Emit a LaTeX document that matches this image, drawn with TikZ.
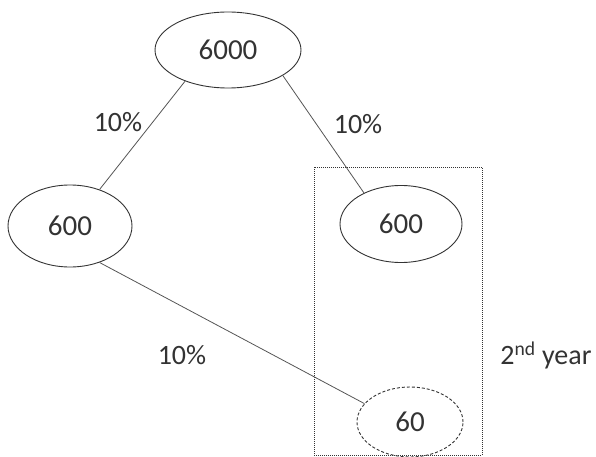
\documentclass[tikz,border=0pt]{standalone}
\usepackage{fontspec}
\setmainfont{Carlito}
\usetikzlibrary{shapes.geometric}
\definecolor{ink}{HTML}{333333}
\definecolor{wire}{HTML}{555555}
\begin{document}
\begin{tikzpicture}
  [x=1pt, y=-1pt]
  \tikzstyle{amount} = [ellipse, draw=ink, line width=0.9pt, inner sep=0pt,
                        text=ink, font=\fontsize{29}{34}\selectfont];
  \tikzstyle{rate}   = [text=ink, font=\fontsize{28}{34}\selectfont];
  \tikzstyle{wire}   = [draw=wire, line width=0.8pt];

  \useasboundingbox (0, 0) rectangle (596, 457);

  % year group
  \node[draw=ink, densely dotted, line width=1pt, minimum width=168pt,
        minimum height=288pt, inner sep=0pt] (year2) at (398, 311) {};

  \node[amount, minimum width=146pt, minimum height=76pt] (top)   at (228, 50)  {6000};
  \node[amount, minimum width=124pt, minimum height=82pt] (lft)   at (70, 226)  {600};
  \node[amount, minimum width=122pt, minimum height=77pt] (rgt)   at (401, 224) {600};
  \node[amount, densely dashed, minimum width=106pt, minimum height=70pt] (bot) at (410, 422) {60};

  \draw[wire] (lft.51)  -- (top.216);
  \draw[wire] (top.-25) -- (rgt.140);
  \draw[wire] (lft.-51) -- (bot.158);

  \node[rate] (r1) at (118, 122) {10\%};
  \node[rate] (r2) at (358, 124) {10\%};
  \node[rate] (r3) at (182, 355) {10\%};

  \node[rate] (yr) at (546, 355) {2\textsuperscript{nd} year};

\end{tikzpicture}
\end{document}
